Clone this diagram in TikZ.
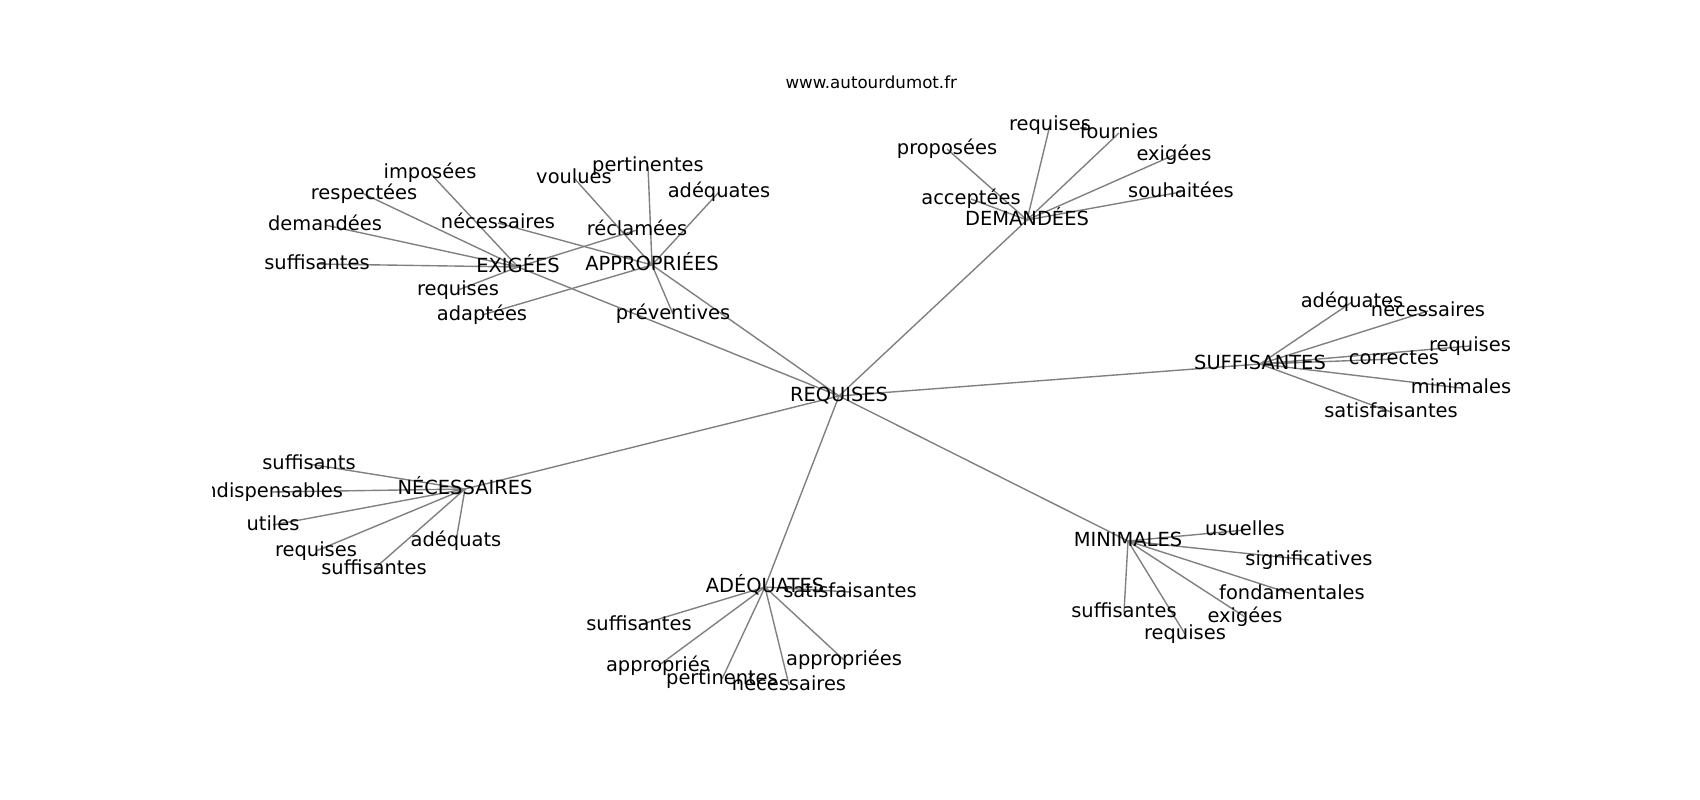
\documentclass[tikz,border=0pt]{standalone}
\usepackage{fontspec}
\setmainfont{DejaVu Sans}
\usetikzlibrary{backgrounds}
\begin{document}
\begin{tikzpicture}[x=1pt,y=-1pt,
  lbl/.style={inner sep=0pt,outer sep=0pt,font=\fontsize{19.44}{22}\selectfont,text=black,
    text height=14.77pt,text depth=4.04pt},
  ttl/.style={inner sep=0pt,outer sep=0pt,font=\fontsize{16.67}{19}\selectfont,anchor=base,text=black},
  edge/.style={draw=gray,line width=1.39pt}]
\useasboundingbox (0,0) rectangle (1700,800);
\node[ttl] (title) at (871.25,88.5) {www.autourdumot.fr};
\begin{scope}[yshift=-2pt]
\clip (212.5,94) rectangle (1530,710);
% hubs
\node[lbl] (R)  at (839,394) {REQUISES};
\node[lbl] (ex) at (518,265) {EXIGÉES};
\node[lbl] (ap) at (652,263) {APPROPRIÉES};
\node[lbl] (de) at (1027,218) {DEMANDÉES};
\node[lbl] (su) at (1260,362) {SUFFISANTES};
\node[lbl] (mi) at (1128,539) {MINIMALES};
\node[lbl] (ad) at (765,585) {ADÉQUATES};
\node[lbl] (ne) at (465,487) {NÉCESSAIRES};
% EXIGEES leaves
\node[lbl] (e1) at (430,171) {imposées};
\node[lbl] (e2) at (364,192) {respectées};
\node[lbl] (e3) at (325,223) {demandées};
\node[lbl] (e4) at (317,262) {suffisantes};
\node[lbl] (e5) at (458,288) {requises};
\node[lbl] (e6) at (637,228) {réclamées};
% APPROPRIEES leaves
\node[lbl] (a1) at (574,176) {voulues};
\node[lbl] (a2) at (648,164) {pertinentes};
\node[lbl] (a3) at (719,190) {adéquates};
\node[lbl] (a4) at (498,221) {nécessaires};
\node[lbl] (a5) at (482,313) {adaptées};
\node[lbl] (a6) at (673,312) {préventives};
% DEMANDEES leaves
\node[lbl] (d1) at (947,147) {proposées};
\node[lbl] (d2) at (1050,123) {requises};
\node[lbl] (d3) at (1119,131) {fournies};
\node[lbl] (d4) at (1174,153) {exigées};
\node[lbl] (d5) at (1181,190) {souhaitées};
\node[lbl] (d6) at (971,197) {acceptées};
% SUFFISANTES leaves
\node[lbl] (s1) at (1352,300) {adéquates};
\node[lbl] (s2) at (1428,309) {nécessaires};
\node[lbl] (s3) at (1470,344) {requises};
\node[lbl] (s4) at (1394,357) {correctes};
\node[lbl] (s5) at (1461,386) {minimales};
\node[lbl] (s6) at (1391,410) {satisfaisantes};
% MINIMALES leaves
\node[lbl] (m1) at (1245,528) {usuelles};
\node[lbl] (m2) at (1309,558) {significatives};
\node[lbl] (m3) at (1292,592) {fondamentales};
\node[lbl] (m4) at (1245,615) {exigées};
\node[lbl] (m5) at (1185,632) {requises};
\node[lbl] (m6) at (1124,610) {suffisantes};
% ADEQUATES leaves
\node[lbl] (q1) at (850,590) {satisfaisantes};
\node[lbl] (q2) at (639,623) {suffisantes};
\node[lbl] (q3) at (658,664) {appropriés};
\node[lbl] (q4) at (722,677) {pertinentes};
\node[lbl] (q5) at (789,683) {nécessaires};
\node[lbl] (q6) at (844,658) {appropriées};
% NECESSAIRES leaves
\node[lbl] (n1) at (309,462) {suffisants};
\node[lbl] (n2) at (271,490) {indispensables};
\node[lbl] (n3) at (273,523) {utiles};
\node[lbl] (n4) at (316,549) {requises};
\node[lbl] (n5) at (374,567) {suffisantes};
\node[lbl] (n6) at (456,539) {adéquats};
\end{scope}
\begin{pgfonlayer}{background}
\fill[white] (0,0) rectangle (1700,800);
\foreach \h/\l in {R/ex,R/ap,R/de,R/su,R/mi,R/ad,R/ne,
  ex/e1,ex/e2,ex/e3,ex/e4,ex/e5,ex/e6,
  ap/a1,ap/a2,ap/a3,ap/a4,ap/a5,ap/a6,
  de/d1,de/d2,de/d3,de/d4,de/d5,de/d6,
  su/s1,su/s2,su/s3,su/s4,su/s5,su/s6,
  mi/m1,mi/m2,mi/m3,mi/m4,mi/m5,mi/m6,
  ad/q1,ad/q2,ad/q3,ad/q4,ad/q5,ad/q6,
  ne/n1,ne/n2,ne/n3,ne/n4,ne/n5,ne/n6}
  \draw[edge] (\h.center) -- (\l.center);
\end{pgfonlayer}
\end{tikzpicture}
\end{document}
